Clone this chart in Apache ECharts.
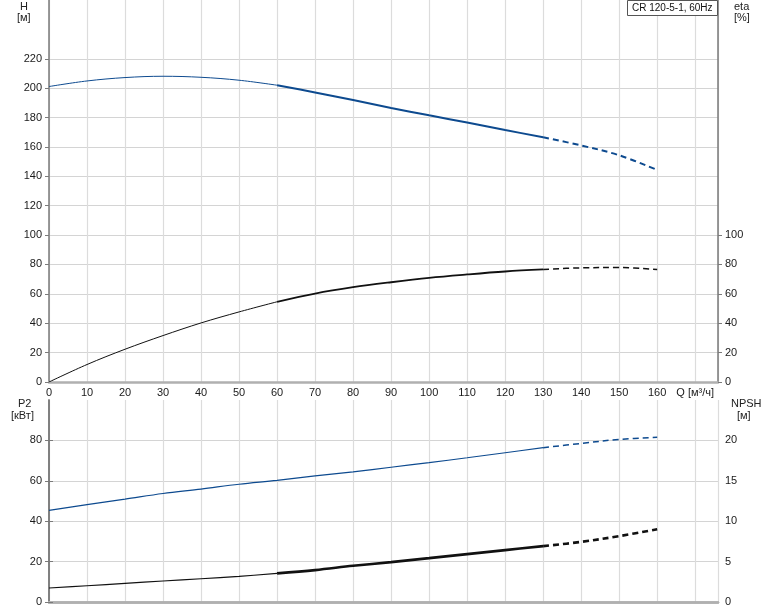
<!DOCTYPE html>
<html>
<head>
<meta charset="utf-8">
<script src="https://cdn.jsdelivr.net/npm/echarts@6/dist/echarts.min.js"></script>
<style>
html,body{margin:0;padding:0;background:#fff;}
#c{width:774px;height:611px;}
</style>
</head>
<body>
<div id="c"></div>
<script>
// ---- data ----
const Q = [0, 10, 20, 30, 40, 50, 60, 70, 80, 90, 100, 110, 120, 130, 140, 150, 160];
const H = [201.1, 204.9, 207.2, 208.1, 207.4, 205.4, 202.0, 197.1, 191.9, 186.5, 181.5, 176.6, 171.5, 166.6, 161.0, 154.3, 144.3];
const ETA = [0, 11.9, 22.3, 31.6, 40.2, 47.7, 54.6, 60.2, 64.5, 67.9, 70.9, 73.2, 75.2, 76.6, 77.7, 77.9, 76.6];
const P2 = [45.4, 48.2, 50.9, 53.7, 55.9, 58.3, 60.2, 62.4, 64.4, 66.7, 69.0, 71.4, 73.9, 76.4, 78.5, 80.5, 81.5];
const NPSH = [1.73, 2.01, 2.30, 2.60, 2.88, 3.17, 3.54, 3.95, 4.48, 4.94, 5.43, 5.93, 6.42, 6.91, 7.44, 8.15, 9.01];

const qTicks = [0, 10, 20, 30, 40, 50, 60, 70, 80, 90, 100, 110, 120, 130, 140, 150, 160, 170];
const hTicks = [0, 20, 40, 60, 80, 100, 120, 140, 160, 180, 200, 220];
const etaTicks = [0, 20, 40, 60, 80, 100];
const p2Ticks = [0, 20, 40, 60, 80];
const npshTicks = [0, 5, 10, 15, 20];
const qUnitLabel = 'Q [м³/ч]';
const title = 'CR 120-5-1, 60Hz';

// ---- helpers ----
function seg(arr, i0, i1) {
  const out = [];
  for (let i = i0; i <= i1; i++) out.push([Q[i], arr[i]]);
  return out;
}
const BLUE = '#0d4a8f';
const FONT = 'Liberation Sans, Arial, sans-serif';
const labelStyle = { color: '#1a1a1a', fontSize: 11, fontFamily: FONT };

function line(name, data, xi, yi, color, width, dashed) {
  return {
    name, type: 'line', data, xAxisIndex: xi, yAxisIndex: yi,
    smooth: 0.35, symbol: 'none', silent: true, animation: false,
    lineStyle: { color, width, type: dashed ? [6, 4] : 'solid' }
  };
}

const chart = echarts.init(document.getElementById('c'), null, { renderer: 'canvas' });

const xBase = {
  type: 'value', min: 0, max: 176, interval: 10,
  axisTick: { show: false },
  splitLine: { show: true, lineStyle: { color: '#dcdcdc', width: 1.2 } },
  axisLine: { show: true, onZero: false, lineStyle: { color: '#b0b0b0', width: 2.5 } }
};

const option = {
  animation: false,
  textStyle: { fontFamily: FONT },
  grid: [
    { left: 49, right: 56, top: 0, height: 382 },
    { left: 49, right: 56, top: 400, height: 202 }
  ],
  xAxis: [
    Object.assign({}, xBase, {
      gridIndex: 0,
      axisLabel: Object.assign({}, labelStyle, {
        customValues: qTicks, margin: 5,
        formatter: v => (v === 170 ? qUnitLabel : String(v))
      })
    }),
    Object.assign({}, xBase, { gridIndex: 1, axisLabel: { show: false } }),
    {
      type: 'value', gridIndex: 1, position: 'top', min: 0, max: 176,
      axisLabel: { show: false }, axisTick: { show: false }, splitLine: { show: false },
      axisLine: { show: true, lineStyle: { color: '#b0b0b0', width: 2.5 } }
    }
  ],
  yAxis: [
    {
      type: 'value', gridIndex: 0, min: 0, max: 260, interval: 20, position: 'left',
      axisLine: { show: true, lineStyle: { color: '#7a7a7a', width: 1.5 } },
      axisTick: { show: true, customValues: hTicks, length: 4, lineStyle: { color: '#7a7a7a' } },
      axisLabel: Object.assign({}, labelStyle, { customValues: hTicks, margin: 7 }),
      splitLine: { show: true, lineStyle: { color: '#d4d4d4', width: 1.2 } }
    },
    {
      type: 'value', gridIndex: 0, min: 0, max: 260, interval: 20, position: 'right',
      axisLine: { show: true, lineStyle: { color: '#7a7a7a', width: 1.5 } },
      axisTick: { show: true, customValues: etaTicks, length: 4, lineStyle: { color: '#7a7a7a' } },
      axisLabel: Object.assign({}, labelStyle, { customValues: etaTicks, margin: 7 }),
      splitLine: { show: false }
    },
    {
      type: 'value', gridIndex: 1, min: 0, max: 100, interval: 20, position: 'left',
      axisLine: { show: true, lineStyle: { color: '#7a7a7a', width: 1.5 } },
      axisTick: { show: true, customValues: p2Ticks, length: 4, lineStyle: { color: '#7a7a7a' } },
      axisLabel: Object.assign({}, labelStyle, { customValues: p2Ticks, margin: 7 }),
      splitLine: { show: true, lineStyle: { color: '#d4d4d4', width: 1.2 } }
    },
    {
      type: 'value', gridIndex: 1, min: 0, max: 25, interval: 5, position: 'right',
      axisLine: { show: true, lineStyle: { color: '#7a7a7a', width: 1.5 } },
      axisTick: { show: true, customValues: npshTicks, length: 4, lineStyle: { color: '#7a7a7a' } },
      axisLabel: Object.assign({}, labelStyle, { customValues: npshTicks, margin: 7 }),
      splitLine: { show: false }
    }
  ],
  series: [
    line('H1', seg(H, 0, 6), 0, 0, BLUE, 1, false),
    line('H2', seg(H, 6, 13), 0, 0, BLUE, 2, false),
    line('H3', seg(H, 13, 16), 0, 0, BLUE, 2, true),
    line('E1', seg(ETA, 0, 6), 0, 1, '#111', 1, false),
    line('E2', seg(ETA, 6, 13), 0, 1, '#111', 1.8, false),
    line('E3', seg(ETA, 13, 16), 0, 1, '#111', 1.5, true),
    line('P1', seg(P2, 0, 13), 1, 2, BLUE, 1.2, false),
    line('P3', seg(P2, 13, 16), 1, 2, BLUE, 1.5, true),
    line('N1', seg(NPSH, 0, 6), 1, 3, '#111', 1.2, false),
    line('N2', seg(NPSH, 6, 13), 1, 3, '#111', 2.6, false),
    line('N3', seg(NPSH, 13, 16), 1, 3, '#111', 2.6, true)
  ],
  graphic: [
    { type: 'text', left: 20, top: 1, style: { text: 'H', font: '11px ' + FONT, fill: '#222' } },
    { type: 'text', left: 17, top: 12, style: { text: '[м]', font: '11px ' + FONT, fill: '#222' } },
    { type: 'text', left: 734, top: 1, style: { text: 'eta', font: '11px ' + FONT, fill: '#222' } },
    { type: 'text', left: 734, top: 12, style: { text: '[%]', font: '11px ' + FONT, fill: '#222' } },
    { type: 'text', left: 18, top: 398, style: { text: 'P2', font: '11px ' + FONT, fill: '#222' } },
    { type: 'text', left: 11, top: 410, style: { text: '[кВт]', font: '11px ' + FONT, fill: '#222' } },
    { type: 'text', left: 731, top: 398, style: { text: 'NPSH', font: '11px ' + FONT, fill: '#222' } },
    { type: 'text', left: 737, top: 410, style: { text: '[м]', font: '11px ' + FONT, fill: '#222' } },
    {
      type: 'group', left: 627, top: 0, z: 100,
      children: [
        { type: 'rect', z: 100, shape: { x: 0.5, y: 0.5, width: 90, height: 15 }, style: { fill: '#fff', stroke: '#555', lineWidth: 1 } },
        { type: 'text', z: 101, x: 5, y: 3, style: { text: title, font: '10px ' + FONT, fill: '#111' } }
      ]
    }
  ]
};
chart.setOption(option);
</script>
</body>
</html>
